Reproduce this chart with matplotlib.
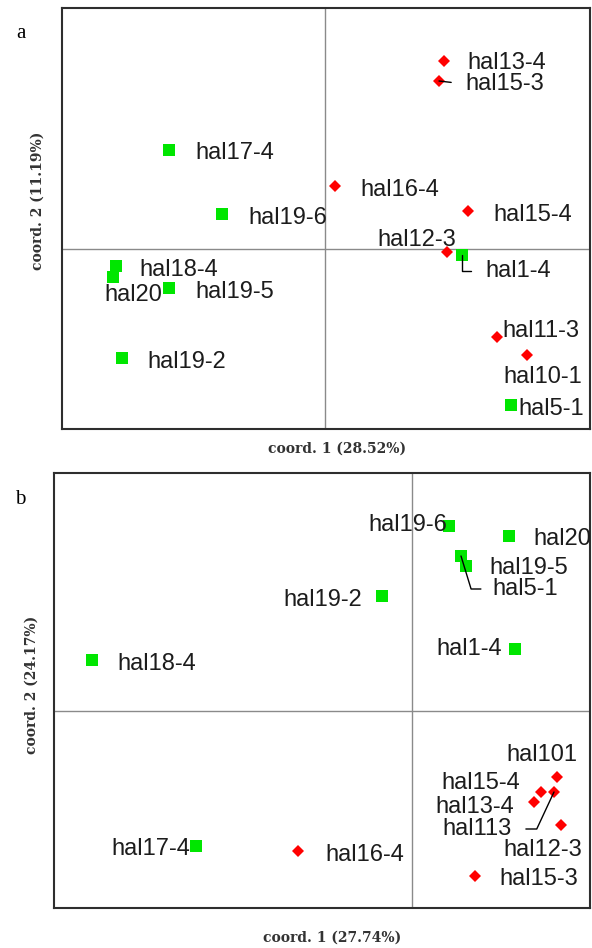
import matplotlib
matplotlib.use('Agg')
import matplotlib.pyplot as plt

# ---------------- data (PCoA coordinates) ----------------
# panel a
names_a = ['hal17-4', 'hal19-6', 'hal18-4', 'hal20', 'hal19-5', 'hal19-2',
           'hal13-4', 'hal15-3', 'hal16-4', 'hal15-4', 'hal12-3', 'hal1-4',
           'hal11-3', 'hal10-1', 'hal5-1']
x_a = [-0.312, -0.206, -0.418, -0.424, -0.312, -0.406,
       0.238, 0.228, 0.020, 0.286, 0.244, 0.274,
       0.344, 0.404, 0.372]
y_a = [0.198, 0.070, -0.034, -0.056, -0.078, -0.218,
       0.376, 0.336, 0.126, 0.076, -0.006, -0.012,
       -0.176, -0.212, -0.312]
group_a = ['g', 'g', 'g', 'g', 'g', 'g',
           'r', 'r', 'r', 'r', 'r', 'g',
           'r', 'r', 'g']

# panel b
names_b = ['hal18-4', 'hal17-4', 'hal16-4', 'hal19-6', 'hal20', 'hal5-1',
           'hal19-5', 'hal19-2', 'hal1-4', 'hal101', 'hal15-4', 'hal113',
           'hal13-4', 'hal12-3', 'hal15-3']
x_b = [-0.640, -0.432, -0.228, 0.074, 0.194, 0.098,
       0.108, -0.060, 0.206, 0.290, 0.258, 0.284,
       0.244, 0.298, 0.126]
y_b = [0.102, -0.270, -0.280, 0.370, 0.350, 0.310,
       0.290, 0.230, 0.124, -0.132, -0.162, -0.162,
       -0.182, -0.228, -0.330]
group_b = ['g', 'g', 'r', 'g', 'g', 'g',
           'g', 'g', 'g', 'r', 'r', 'r',
           'r', 'r', 'r']

xlabel_a, ylabel_a = 'coord. 1 (28.52%)', 'coord. 2 (11.19%)'
xlabel_b, ylabel_b = 'coord. 1 (27.74%)', 'coord. 2 (24.17%)'

# label placement in pixels (dx, dy up, ha) -- layout only
lab_a = {'hal17-4': (26, -1, 'left'), 'hal19-6': (26, -2, 'left'),
         'hal18-4': (23, -2, 'left'), 'hal20': (-9, -16, 'left'),
         'hal19-5': (26, -2, 'left'), 'hal19-2': (25, -2, 'left'),
         'hal13-4': (23, 0, 'left'), 'hal15-3': (26, -1, 'left'),
         'hal16-4': (25, -2, 'left'), 'hal15-4': (25, -2, 'left'),
         'hal12-3': (9, 14, 'right'), 'hal1-4': (23, -14, 'left'),
         'hal11-3': (5, 8, 'left'), 'hal10-1': (-24, -20, 'left'),
         'hal5-1': (7, -2, 'left')}
lab_b = {'hal18-4': (25, -2, 'left'), 'hal17-4': (-6, -1, 'right'),
         'hal16-4': (27, -2, 'left'), 'hal19-6': (-2, 3, 'right'),
         'hal20': (24, -1, 'left'), 'hal5-1': (31, -31, 'left'),
         'hal19-5': (23, 0, 'left'), 'hal19-2': (-20, -2, 'right'),
         'hal1-4': (-13, 2, 'right'), 'hal101': (-15, 24, 'center'),
         'hal15-4': (-21, 11, 'right'), 'hal113': (-42, -35, 'right'),
         'hal13-4': (-20, -3, 'right'), 'hal12-3': (-18, -23, 'center'),
         'hal15-3': (24, -1, 'left')}

# leader lines: connection style, shrinkA (pt)
lead_a = {'hal15-3': ('arc3', 8), 'hal1-4': ('angle,angleA=0,angleB=90,rad=0', 8)}
lead_b = {'hal5-1': ('angle,angleA=0,angleB=-73,rad=0', 6),
          'hal113': ('angle,angleA=0,angleB=65,rad=0', 8)}

GREEN = '#00e600'
RED = '#ff0000'
TXT = '#1c1c1c'
lab_font = dict(family=['Liberation Sans', 'DejaVu Sans'], size=17, color=TXT)
ax_font = dict(family='DejaVu Serif', weight='bold', size=10, color='#333333')

fig = plt.figure(figsize=(5.92, 9.48), dpi=100)


def draw_panel(ax, names, xs, ys, groups, labs, leads, xlim, ylim):
    ax.set_xlim(*xlim)
    ax.set_ylim(*ylim)
    ax.axhline(0, color='#8a8a8a', lw=1.0, zorder=1)
    ax.axvline(0, color='#8a8a8a', lw=1.0, zorder=1)
    for n, x, y, g in zip(names, xs, ys, groups):
        if g == 'g':
            ax.plot(x, y, marker='s', ms=9.2, color=GREEN, mew=0, zorder=4)
        else:
            ax.plot(x, y, marker='D', ms=6.3, color=RED, mew=0, zorder=4)
        dx, dy, ha = labs[n]
        kw = {}
        if n in leads:
            cs, shr = leads[n]
            kw['arrowprops'] = dict(arrowstyle='-', color='black', lw=1.0,
                                    connectionstyle=cs, shrinkA=shr, shrinkB=0,
                                    relpos=(0, 0.5) if ha == 'left' else (1, 0.5))
        ax.annotate(n, (x, y), xytext=(dx, dy - 2), textcoords='offset pixels',
                    ha=ha, va='center', zorder=5, **lab_font, **kw)
    ax.set_xticks([])
    ax.set_yticks([])
    for s in ax.spines.values():
        s.set_linewidth(1.5)
        s.set_color('#2e2e2e')


# panel a
ax1 = fig.add_axes([62 / 592, 1 - 429 / 948, 528 / 592, 421 / 948])
draw_panel(ax1, names_a, x_a, y_a, group_a, lab_a, lead_a, (-0.526, 0.530), (-0.360, 0.482))
ax1.set_xlabel(xlabel_a, va='center', **ax_font)
ax1.xaxis.set_label_coords(0.521, -0.0475)
ax1.set_ylabel(ylabel_a, va='center', **ax_font)
ax1.yaxis.set_label_coords(-0.047, 0.541)

# panel b
ax2 = fig.add_axes([54 / 592, 1 - 908 / 948, 536 / 592, 435 / 948])
draw_panel(ax2, names_b, x_b, y_b, group_b, lab_b, lead_b, (-0.716, 0.356), (-0.394, 0.476))
ax2.set_xlabel(xlabel_b, va='center', **ax_font)
ax2.xaxis.set_label_coords(0.519, -0.069)
ax2.set_ylabel(ylabel_b, va='center', **ax_font)
ax2.yaxis.set_label_coords(-0.041, 0.513)

fig.text(21 / 592, 1 - 33 / 948, 'a', ha='center', va='center',
         family='Liberation Serif', size=15, color='black')
fig.text(20 / 592, 1 - 500 / 948, 'b', ha='center', va='center',
         family='Liberation Serif', size=15, color='black')

fig.savefig('out.png', dpi=100)
